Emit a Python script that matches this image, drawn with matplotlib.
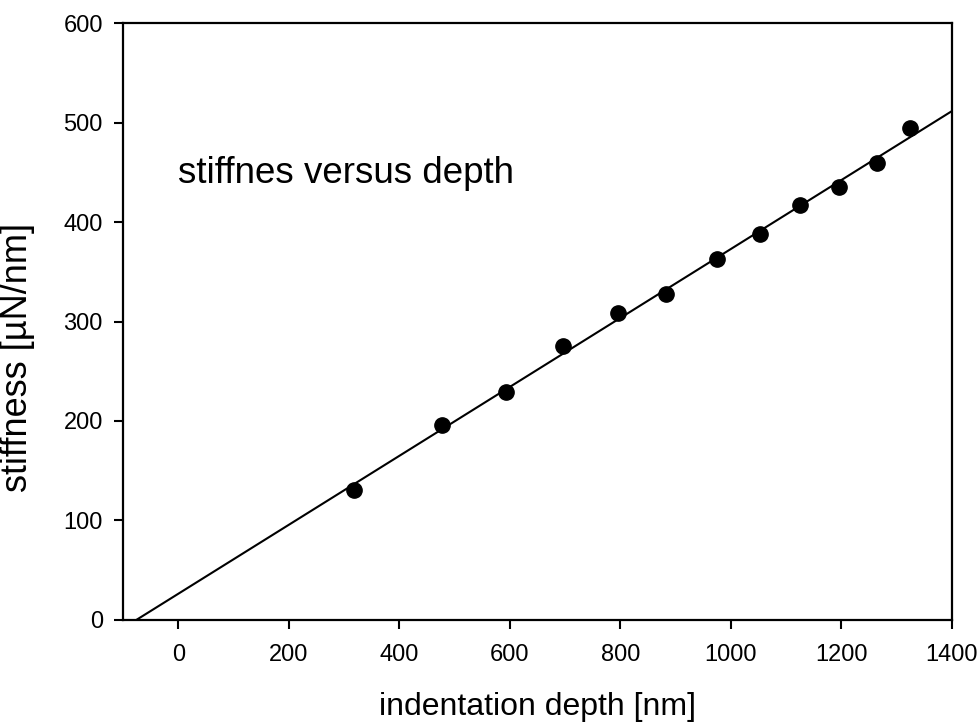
import matplotlib
matplotlib.use("Agg")
import matplotlib.pyplot as plt
import numpy as np

depth = [318, 478, 593, 697, 795, 882, 975, 1053, 1125, 1195, 1264, 1324]
stiffness = [131, 196, 229, 275, 309, 328, 363, 388, 417, 435, 459, 494]

x_ticks = [0, 200, 400, 600, 800, 1000, 1200, 1400]
y_ticks = [0, 100, 200, 300, 400, 500, 600]

plt.rcParams['font.family'] = ['Liberation Sans', 'DejaVu Sans']

fig = plt.figure(figsize=(9.79, 7.22), dpi=100)
ax = fig.add_axes([0.1256, 0.1413, 0.8468, 0.8268])

# linear fit through the points, drawn from the x-intercept up to the axis end
slope, intercept = np.polyfit(depth, stiffness, 1)
x0 = -intercept / slope
fit_x = np.array([x0, 1400])
ax.plot(fit_x, slope * fit_x + intercept, color='black', lw=1.5, zorder=2)

ax.plot(depth, stiffness, 'o', color='black', markersize=11, zorder=3)

ax.set_xlim(-100, 1400)
ax.set_ylim(0, 600)
ax.set_xticks(x_ticks)
ax.set_yticks(y_ticks)
ax.tick_params(labelsize=17, length=6.5, width=1.5, direction='out')
ax.tick_params(axis='y', pad=8)
ax.tick_params(axis='x', pad=11)
for s in ax.spines.values():
    s.set_linewidth(1.6)

ax.set_xlabel('indentation depth [nm]', fontsize=23)
ax.xaxis.set_label_coords(0.5, -0.12)
ax.set_ylabel('stiffness [µN/nm]', fontsize=26)
ax.yaxis.set_label_coords(-0.106, 0.44)

ax.text(0, 439, 'stiffnes versus depth', fontsize=26.5, ha='left', va='baseline')

fig.savefig('out.png', dpi=100)
